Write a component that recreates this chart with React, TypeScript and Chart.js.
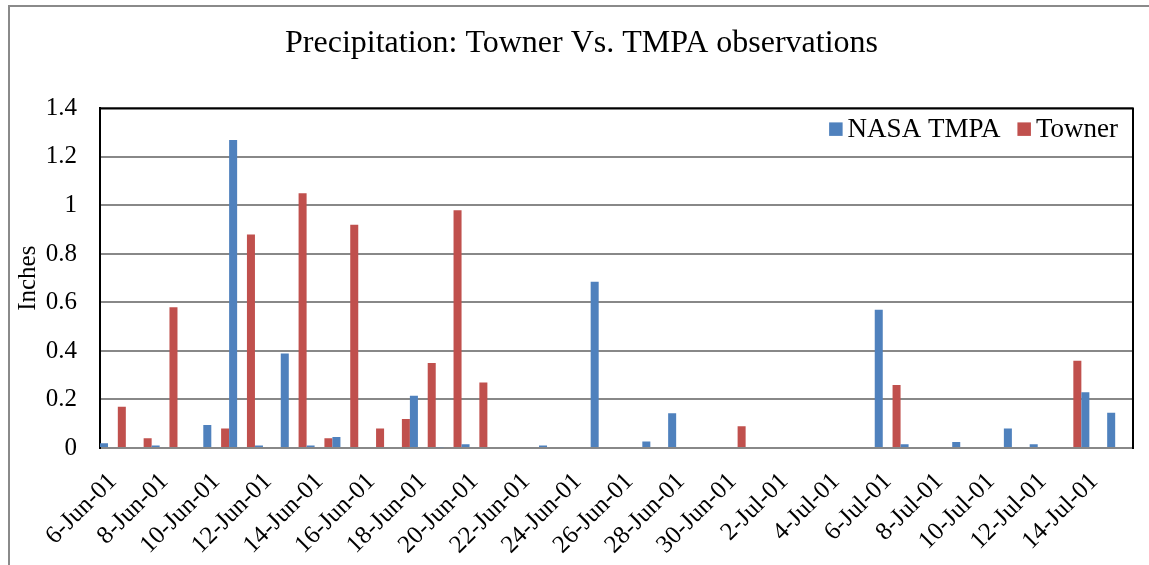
import React, { useEffect, useRef } from "react";
import { Chart, registerables } from "chart.js";

Chart.register(...registerables);

const dates: string[] = [
  "6-Jun-01", "7-Jun-01", "8-Jun-01", "9-Jun-01", "10-Jun-01", "11-Jun-01", "12-Jun-01", "13-Jun-01",
  "14-Jun-01", "15-Jun-01", "16-Jun-01", "17-Jun-01", "18-Jun-01", "19-Jun-01", "20-Jun-01", "21-Jun-01",
  "22-Jun-01", "23-Jun-01", "24-Jun-01", "25-Jun-01", "26-Jun-01", "27-Jun-01", "28-Jun-01", "29-Jun-01",
  "30-Jun-01", "1-Jul-01", "2-Jul-01", "3-Jul-01", "4-Jul-01", "5-Jul-01", "6-Jul-01", "7-Jul-01",
  "8-Jul-01", "9-Jul-01", "10-Jul-01", "11-Jul-01", "12-Jul-01", "13-Jul-01", "14-Jul-01", "15-Jul-01",
];

const nasaTmpa: number[] = [
  0.02, 0, 0.01, 0, 0.095, 1.27, 0.01, 0.39,
  0.01, 0.045, 0, 0, 0.215, 0.003, 0.015, 0,
  0, 0.01, 0, 0.685, 0, 0.027, 0.143, 0,
  0, 0, 0, 0, 0, 0, 0.57, 0.015,
  0, 0.025, 0, 0.08, 0.015, 0, 0.23, 0.145,
];

const towner: number[] = [
  0.17, 0.04, 0.58, 0, 0.08, 0.88, 0, 1.05,
  0.04, 0.92, 0.08, 0.12, 0.35, 0.98, 0.27, 0,
  0, 0, 0, 0, 0, 0, 0, 0,
  0.09, 0, 0, 0, 0, 0, 0.26, 0,
  0, 0, 0, 0, 0, 0.36, 0, 0,
];

const seriesNames = ["NASA TMPA", "Towner"];
const seriesColors = ["#4F81BD", "#C0504D"];
const titleText = "Precipitation: Towner Vs. TMPA observations";
const yTitle = "Inches";

const FONT = '"Liberation Serif", "Times New Roman", serif';

const framePlugin = {
  id: "frameAndLegend",
  afterDraw(chart: any) {
    const { ctx, chartArea } = chart;
    const { left, right, top, bottom } = chartArea;
    ctx.save();
    ctx.strokeStyle = "#000";
    ctx.lineWidth = 2;
    ctx.beginPath();
    ctx.moveTo(left - 1, top);
    ctx.lineTo(right, top);
    ctx.lineTo(right, bottom + 1);
    ctx.stroke();

    // legend inside plot area, top right
    ctx.font = `27px ${FONT}`;
    ctx.textBaseline = "alphabetic";
    ctx.textAlign = "left";
    const box = 13.5;
    const gapBoxText = 5;
    const gapItems = 17;
    const baseline = top + 29;
    const widths = seriesNames.map((n) => ctx.measureText(n).width);
    let total = 0;
    widths.forEach((w, i) => {
      total += box + gapBoxText + w + (i < widths.length - 1 ? gapItems : 0);
    });
    let x = right - 15 - total;
    seriesNames.forEach((n, i) => {
      ctx.fillStyle = seriesColors[i];
      ctx.fillRect(x, baseline - 15, box, box);
      x += box + gapBoxText;
      ctx.fillStyle = "#000";
      ctx.fillText(n, x, baseline);
      x += widths[i] + gapItems;
    });
    ctx.restore();
  },
};

export default function App() {
  const ref = useRef<HTMLCanvasElement | null>(null);

  useEffect(() => {
    if (!ref.current) return;
    const chart = new Chart(ref.current, {
      type: "bar",
      data: {
        labels: dates,
        datasets: [
          {
            label: seriesNames[0],
            data: nasaTmpa,
            backgroundColor: seriesColors[0],
            categoryPercentage: 1.38,
            barPercentage: 0.45,
          },
          {
            label: seriesNames[1],
            data: towner,
            backgroundColor: seriesColors[1],
            categoryPercentage: 1.38,
            barPercentage: 0.45,
          },
        ],
      },
      options: {
        responsive: false,
        animation: false,
        layout: { padding: { left: 20, right: 16, top: 0, bottom: 0 } },
        plugins: {
          legend: { display: false },
          tooltip: { enabled: false },
          title: {
            display: true,
            text: titleText,
            color: "#000",
            font: { family: FONT, size: 32, weight: "normal" },
            padding: { top: 17, bottom: 46 },
          },
        },
        scales: {
          x: {
            grid: { display: false, drawTicks: false },
            border: { display: true, color: "#888888", width: 2 },
            ticks: {
              autoSkip: false,
              minRotation: 45,
              maxRotation: 45,
              color: "#000",
              padding: 19,
              font: { family: FONT, size: 25 },
              callback: (_v: any, i: number) => (i % 2 === 0 ? dates[i] : ""),
            },
            afterFit: (s: any) => {
              s.height = 117;
              s.paddingRight = 0;
              s.paddingLeft = 0;
            },
          },
          y: {
            min: 0,
            max: 1.4,
            ticks: {
              stepSize: 0.2,
              color: "#000",
              padding: 23,
              font: { family: FONT, size: 25 },
              callback: (v: any) => String(Math.round(Number(v) * 10) / 10),
            },
            grid: { color: "#888888", lineWidth: 2, drawTicks: false },
            border: { display: true, color: "#000", width: 2 },
            title: {
              display: true,
              text: yTitle,
              color: "#000",
              font: { family: FONT, size: 25 },
              padding: { top: -17, bottom: 0 },
            },
            afterFit: (s: any) => {
              s.width = 70;
            },
          },
        },
      },
      plugins: [framePlugin],
    });
    return () => chart.destroy();
  }, []);

  return (
    <div
      style={{
        position: "absolute",
        left: 8,
        top: 5,
        width: 1139,
        height: 558,
        borderLeft: "2px solid #8a8a8a",
        borderTop: "2px solid #8a8a8a",
        background: "#fff",
      }}
    >
      <canvas ref={ref} width={1139} height={558} style={{ width: 1139, height: 558, display: "block" }} />
    </div>
  );
}
